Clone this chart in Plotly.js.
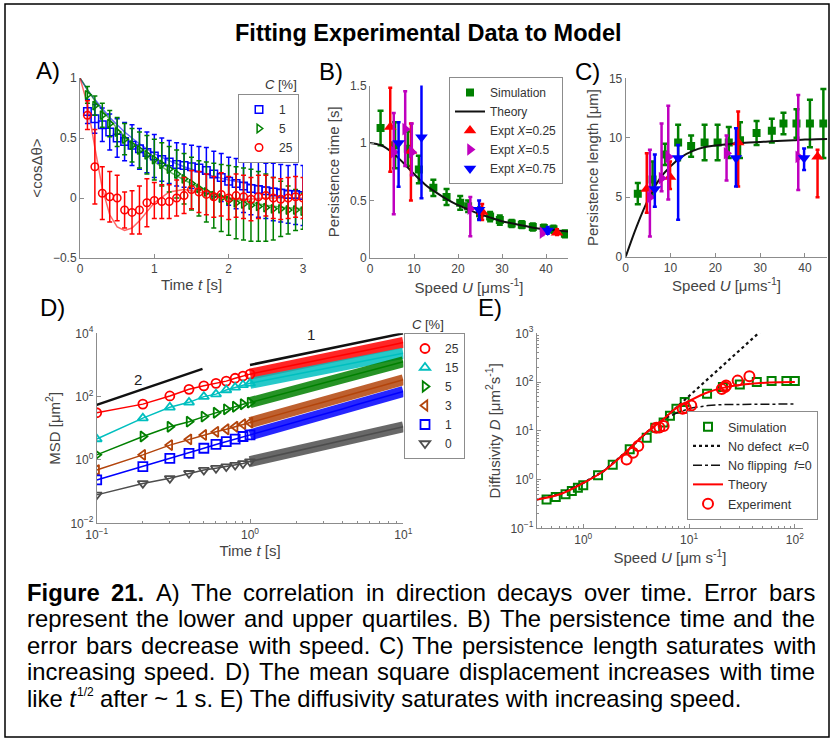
<!DOCTYPE html>
<html>
<head>
<meta charset="utf-8">
<script src="https://cdn.plot.ly/plotly-3.0.1.min.js"></script>
<style>
  html, body { margin: 0; padding: 0; background: #fff; }
  #chart { width: 834px; height: 741px; }
</style>
</head>
<body>
<div id="chart"></div>
<script>
// ---------- Panel A: direction correlation vs time ----------
const timeA = [0.1,0.2,0.3,0.4,0.5,0.6,0.7,0.8,0.9,1.0,1.1,1.2,1.3,1.4,1.5,1.6,1.7,1.8,1.9,2.0,2.1,2.2,2.3,2.4,2.5,2.6,2.7,2.8,2.9,3.0];
const corrC1 = [0.72,0.66,0.61,0.55,0.50,0.47,0.44,0.41,0.38,0.35,0.32,0.30,0.28,0.27,0.26,0.25,0.23,0.20,0.17,0.14,0.12,0.10,0.08,0.07,0.06,0.05,0.04,0.03,0.03,0.02];
const errC1  = [0.10,0.12,0.14,0.15,0.16,0.16,0.17,0.17,0.17,0.18,0.18,0.18,0.18,0.18,0.18,0.18,0.19,0.19,0.20,0.20,0.21,0.22,0.22,0.23,0.23,0.24,0.24,0.24,0.25,0.25];
const corrC5 = [0.86,0.77,0.69,0.62,0.55,0.49,0.44,0.40,0.36,0.32,0.28,0.24,0.20,0.16,0.12,0.08,0.05,0.02,0.00,-0.02,-0.04,-0.05,-0.06,-0.07,-0.08,-0.09,-0.09,-0.10,-0.10,-0.11];
const errC5  = [0.07,0.08,0.10,0.11,0.12,0.13,0.14,0.15,0.16,0.17,0.18,0.19,0.20,0.21,0.22,0.23,0.25,0.27,0.28,0.29,0.30,0.30,0.30,0.29,0.28,0.26,0.23,0.20,0.17,0.15];
const corrC25 = [0.69,0.26,0.04,0.01,0.00,-0.10,-0.12,-0.10,-0.04,-0.02,-0.03,-0.03,0.00,0.02,0.07,0.05,0.03,0.01,0.03,0.00,0.02,0.01,-0.01,0.01,0.02,0.00,-0.01,0.00,0.01,0.00];
const errC25  = [0.12,0.31,0.22,0.21,0.19,0.15,0.18,0.20,0.20,0.15,0.14,0.14,0.15,0.15,0.16,0.17,0.17,0.17,0.18,0.18,0.18,0.18,0.18,0.18,0.17,0.17,0.17,0.17,0.17,0.17];
const fitTimeA = [0,0.1,0.2,0.3,0.4,0.5,0.6,0.7,0.8,0.9,1.0,1.2,1.4,1.6,1.8,2.0,2.25,2.5,2.75,3.0];
const fitC1  = [1,0.90,0.82,0.74,0.67,0.61,0.55,0.50,0.45,0.41,0.37,0.31,0.26,0.22,0.18,0.15,0.12,0.09,0.07,0.05];
const fitC5  = [1,0.90,0.81,0.73,0.65,0.58,0.51,0.45,0.40,0.35,0.30,0.22,0.15,0.09,0.04,0.00,-0.03,-0.06,-0.08,-0.09];
const fitC25 = [1,0.78,0.42,0.08,-0.14,-0.24,-0.27,-0.25,-0.19,-0.11,-0.04,0.05,0.07,0.05,0.02,0.00,-0.01,0.00,0.00,0.00];

// ---------- Panels B and C: persistence time / length vs speed ----------
const simSpeedB = [2.4,5.7,8.6,11.1,14.4,17.4,20.5,22.3,25.0,27.3,29.5,32.2,34.5,37.0,39.5,41.7,44.3];
const simTau    = [1.13,0.98,0.95,0.77,0.61,0.53,0.48,0.45,0.39,0.36,0.33,0.30,0.29,0.27,0.26,0.25,0.21];
const simTauErr = [0.15,0.20,0.15,0.12,0.07,0.07,0.06,0.05,0.05,0.04,0.04,0.03,0.03,0.03,0.03,0.03,0.03];
const theorySpeed = [0,2.5,5,7.5,10,12.5,15,17.5,20,22.5,25,27.5,30,32.5,35,37.5,40,42.5,45];
const theoryTau   = [1.0,0.98,0.92,0.83,0.73,0.64,0.57,0.51,0.46,0.42,0.38,0.35,0.32,0.30,0.28,0.26,0.25,0.24,0.23];
const theoryLen   = [0,2.6,4.8,6.5,7.6,8.4,8.9,9.2,9.35,9.45,9.55,9.6,9.65,9.7,9.75,9.8,9.85,9.87,9.9];

const exp25SpeedB = [4.6,9.3,25.5,42.5];
const exp25Tau    = [1.14,0.93,0.40,0.22];
const exp25TauHi  = [1.48,1.17,0.47,0.25];
const exp25TauLo  = [0.75,0.50,0.33,0.20];
const exp50SpeedB = [5.4,8.0,9.5,22.8,39.2];
const exp50Tau    = [0.92,1.12,0.92,0.43,0.22];
const exp50TauHi  = [1.26,1.45,1.17,0.53,0.25];
const exp50TauLo  = [0.38,0.80,0.72,0.19,0.20];
const exp75SpeedB = [6.5,11.7,24.8,40.4];
const exp75Tau    = [1.00,1.05,0.42,0.24];
const exp75TauHi  = [1.18,1.57,0.50,0.27];
const exp75TauLo  = [0.62,0.52,0.33,0.21];

const simSpeedC = [2.7,6.0,8.8,11.7,14.6,17.6,20.5,23.0,25.5,29.2,32.6,35.2,38.1,41.1,44.1];
const simLen    = [5.3,6.5,8.6,9.6,9.3,9.6,9.6,9.6,9.8,10.4,10.6,11.2,11.2,11.2,11.2];
const simLenErr = [0.9,1.5,0.9,1.5,0.9,1.5,1.5,1.3,1.5,1.0,1.0,0.9,1.2,2.0,2.9];
const exp25SpeedC = [4.7,9.9,25.1,42.8];
const exp25Len    = [5.7,6.7,9.6,8.4];
const exp25LenHi  = [8.7,8.0,12.2,9.0];
const exp25LenLo  = [3.7,5.7,5.9,5.0];
const exp50SpeedC = [5.4,8.0,9.5,22.5,38.5];
const exp50Len    = [5.0,6.6,8.4,8.7,8.4];
const exp50LenHi  = [9.0,11.2,12.7,10.2,13.6];
const exp50LenLo  = [1.7,5.5,4.8,6.4,5.6];
const exp75SpeedC = [6.5,11.7,24.6,39.8];
const exp75Len    = [5.7,8.3,8.3,8.3];
const exp75LenHi  = [8.6,9.4,10.8,9.1];
const exp75LenLo  = [4.2,3.1,5.9,7.3];

// ---------- Panel D: mean square displacement ----------
const timeD = [0.1,0.2,0.3,0.4,0.5,0.6,0.7,0.8,0.9,1.0];
const timeDLate = [1,1.5,2,3,4,5,6,7,8,10];
const msdC25 = [31,58,105,170,219,263,309,380,447,513];
const msdC25Late = [513,776,1023,1549,2042,2570,3090,3548,4074,5129];
const msdC15 = [4.6,21,46,66,100,120,162,195,234,263];
const msdC15Late = [263,389,513,741,977,1202,1445,1660,1905,2344];
const msdC5 = [1.45,5.5,11.2,16.2,23.4,30.9,39.8,47.9,57.5,64.6];
const msdC5Late = [64.6,110,158,269,389,513,646,794,955,1259];
const msdC3 = [0.48,1.45,2.95,4.47,6.17,7.76,9.33,11.2,13.5,15.1];
const msdC3Late = [15.1,26.3,38.9,66.1,97.7,132,170,209,251,339];
const msdC1 = [0.234,0.617,1.12,1.62,2.34,3.09,3.8,4.57,5.5,6.17];
const msdC1Late = [6.17,10.7,15.8,27.5,40.7,56.2,72.4,89.1,107,145];
const msdC0 = [0.079,0.182,0.263,0.38,0.479,0.55,0.617,0.692,0.776,0.891];
const msdC0Late = [0.891,1.38,1.91,2.95,4.07,5.25,6.46,7.59,8.71,11.2];
const slope2Time = [0.1,0.49], slope2Msd = [55,750];
const slope1Time = [1,10],     slope1Msd = [1000,10000];
const timeDTicks = [0.1,1,10],           timeDTickText = ['10<sup>−1</sup>','10<sup>0</sup>','10<sup>1</sup>'];
const msdTicks = [0.01,1,100,10000],     msdTickText = ['10<sup>−2</sup>','10<sup>0</sup>','10<sup>2</sup>','10<sup>4</sup>'];

// ---------- Panel E: diffusivity vs speed ----------
const simSpeedE = [0.45,0.55,0.68,0.78,0.89,1.0,1.38,1.9,2.75,3.98,4.79,5.75,6.6,7.6,9.1,14.8,20.9,30.2,43.7,60.3,83.2,100];
const simDiff   = [0.39,0.44,0.5,0.58,0.68,0.76,1.23,2.0,4.17,7.24,11.5,14.8,20.4,28.2,38.9,57.5,79.4,89.1,100,105,105,105];
const thSpeedE  = [0.363,0.603,1.0,1.55,2.4,3.98,5.75,7.59,10.2,15.1,20.9,30.2,57.5,100];
const thDiff    = [0.39,0.5,0.85,1.48,3.31,9.33,17.4,29.5,41.7,61.7,75.9,87.1,97.7,100];
const noDefectSpeed = [0.363,0.603,1.0,1.55,2.4,3.98,5.75,7.59,10.2,15.1,20.9,30.2,46.8];
const noDefectDiff  = [0.39,0.5,0.85,1.48,3.31,9.33,17.4,30,54,117,219,457,1070];
const noFlipSpeed = [0.363,0.603,1.0,1.55,2.4,3.98,5.75,7.59,10.2,15.1,20.9,30.2,57.5,100];
const noFlipDiff  = [0.39,0.5,0.85,1.48,3.31,9.33,17.4,23,29,33,34.5,35,35.5,35.5];
const expSpeedE = [2.57,2.95,3.31,4.9,5.25,5.75,8.7,9.3,10.5,20.4,21.9,22.4,28.8,37.2];
const expDiff   = [2.57,3.55,4.9,11.5,11.7,12.6,28.2,29.5,33.1,72.4,79.4,85.1,107,132];
const speedETicks = [1,10,100],              speedETickText = ['10<sup>0</sup>','10<sup>1</sup>','10<sup>2</sup>'];
const diffTicks = [0.1,1,10,100,1000],       diffTickText = ['10<sup>−1</sup>','10<sup>0</sup>','10<sup>1</sup>','10<sup>2</sup>','10<sup>3</sup>'];

// ---------- Text ----------
const figTitle = '<b>Fitting Experimental Data to Model</b>';
const captionLines = [
  'Figure 21. A) The correlation in direction decays over time. Error bars',
  'represent the lower and upper quartiles. B) The persistence time and the',
  'error bars decrease with speed. C) The persistence length saturates with',
  'increasing speed. D) The mean square displacement increases with time'
];
const captionLastStart = 'like ', captionLastVar = 't', captionLastExp = '1/2';
const captionLastRest = 'after ~ 1 s. E) The diffusivity saturates with increasing speed.';

// ---------- Page geometry ----------
const W = 834, H = 741;
const FONT = '"Liberation Sans", Arial, sans-serif';
const px = x => x / W;
const py = y => 1 - y / H;

const RED = '#ff0000', GREEN = '#008000', BLUE = '#0000ff', MAG = '#bf00bf',
      CYAN = '#00bfbf', BROWN = '#b3440b', GREY = '#4d4d4d';

function axis(x0, x1, extra) {
  return Object.assign({
    domain: [x0, x1], showline: true, linecolor: '#8c8c8c', linewidth: 1,
    ticks: 'inside', ticklen: 4, tickcolor: '#8c8c8c', showgrid: false, zeroline: false,
    tickfont: { family: FONT, size: 12, color: '#444' }
  }, extra);
}
function axTitle(text, standoff) {
  return { text: text, standoff: standoff, font: { family: FONT, size: 15, color: '#444' } };
}
function asym(y, hi, lo) {
  return { type: 'data', symmetric: false,
    array: hi.map((h, i) => h - y[i]), arrayminus: lo.map((l, i) => y[i] - l) };
}

const traces = [];

// Panel A
[[fitC1, BLUE], [fitC5, GREEN], [fitC25, RED]].forEach(([y, c]) => traces.push({
  x: fitTimeA, y: y, xaxis: 'x', yaxis: 'y', mode: 'lines', showlegend: false,
  line: { color: c, width: 1.5 }, opacity: 0.6, hoverinfo: 'skip'
}));
[[corrC1, errC1, BLUE, 'square-open', '1'],
 [corrC5, errC5, GREEN, 'triangle-right-open', '5'],
 [corrC25, errC25, RED, 'circle-open', '25']].forEach(([y, e, c, s, n]) => traces.push({
  x: timeA, y: y, xaxis: 'x', yaxis: 'y', mode: 'markers', name: n, legend: 'legend',
  marker: { symbol: s, size: 7.5, color: c, line: { width: 1.5, color: c } },
  error_y: { type: 'data', array: e, color: c, thickness: 1.5, width: 2.5 }
}));

// Panel B
traces.push({
  x: simSpeedB, y: simTau, xaxis: 'x2', yaxis: 'y2', mode: 'markers', name: 'Simulation', legend: 'legend2',
  marker: { symbol: 'square', size: 8, color: GREEN },
  error_y: { type: 'data', array: simTauErr, color: GREEN, thickness: 2.5, width: 3 }
});
traces.push({
  x: theorySpeed, y: theoryTau, xaxis: 'x2', yaxis: 'y2', mode: 'lines', name: 'Theory', legend: 'legend2',
  line: { color: '#111', width: 2, shape: 'spline' }
});
const exptSets = [
  ['Expt <i>X</i>=0.25', RED, 'triangle-up', exp25SpeedB, exp25Tau, exp25TauHi, exp25TauLo, exp25SpeedC, exp25Len, exp25LenHi, exp25LenLo],
  ['Expt <i>X</i>=0.5', MAG, 'triangle-right', exp50SpeedB, exp50Tau, exp50TauHi, exp50TauLo, exp50SpeedC, exp50Len, exp50LenHi, exp50LenLo],
  ['Expt <i>X</i>=0.75', BLUE, 'triangle-down', exp75SpeedB, exp75Tau, exp75TauHi, exp75TauLo, exp75SpeedC, exp75Len, exp75LenHi, exp75LenLo]
];
exptSets.forEach(([n, c, s, u, t, th, tl]) => traces.push({
  x: u, y: t, xaxis: 'x2', yaxis: 'y2', mode: 'markers', name: n, legend: 'legend2',
  marker: { symbol: s, size: 11, color: c },
  error_y: Object.assign(asym(t, th, tl), { color: c, thickness: 2.5, width: 2 })
}));

// Panel C
traces.push({
  x: simSpeedC, y: simLen, xaxis: 'x3', yaxis: 'y3', mode: 'markers', showlegend: false,
  marker: { symbol: 'square', size: 8, color: GREEN },
  error_y: { type: 'data', array: simLenErr, color: GREEN, thickness: 2.5, width: 3 }
});
traces.push({
  x: theorySpeed, y: theoryLen, xaxis: 'x3', yaxis: 'y3', mode: 'lines', showlegend: false,
  line: { color: '#111', width: 2, shape: 'spline' }
});
exptSets.forEach(([n, c, s, , , , , u, l, lh, ll]) => traces.push({
  x: u, y: l, xaxis: 'x3', yaxis: 'y3', mode: 'markers', showlegend: false,
  marker: { symbol: s, size: 11, color: c },
  error_y: Object.assign(asym(l, lh, ll), { color: c, thickness: 2.5, width: 2 })
}));

// Panel D
const msdSets = [
  ['25', RED, 'circle-open', msdC25, msdC25Late],
  ['15', CYAN, 'triangle-up-open', msdC15, msdC15Late],
  ['5', GREEN, 'triangle-right-open', msdC5, msdC5Late],
  ['3', BROWN, 'triangle-left-open', msdC3, msdC3Late],
  ['1', BLUE, 'square-open', msdC1, msdC1Late],
  ['0', GREY, 'triangle-down-open', msdC0, msdC0Late]
];
msdSets.forEach(([n, c, s, early, late]) => {
  traces.push({
    x: timeDLate, y: late, xaxis: 'x4', yaxis: 'y4', mode: 'lines', showlegend: false,
    line: { color: c, width: 11 }, opacity: 0.85, hoverinfo: 'skip'
  });
  traces.push({
    x: timeD.concat(timeDLate.slice(1)), y: early.concat(late.slice(1)), xaxis: 'x4', yaxis: 'y4',
    mode: 'lines', showlegend: false, line: { color: c, width: 1.5 }, hoverinfo: 'skip'
  });
});
msdSets.forEach(([n, c, s, early]) => traces.push({
  x: timeD, y: early, xaxis: 'x4', yaxis: 'y4', mode: 'markers', name: n, legend: 'legend3',
  marker: { symbol: s, size: 9, color: c, line: { width: 1.8, color: c } }
}));
[[slope2Time, slope2Msd], [slope1Time, slope1Msd]].forEach(([x, y]) => traces.push({
  x: x, y: y, xaxis: 'x4', yaxis: 'y4', mode: 'lines', showlegend: false,
  line: { color: '#111', width: 2.5 }
}));

// Panel E
traces.push({
  x: simSpeedE, y: simDiff, xaxis: 'x5', yaxis: 'y5', mode: 'markers', name: 'Simulation', legend: 'legend4',
  marker: { symbol: 'square-open', size: 8, color: GREEN, line: { width: 2, color: GREEN } }
});
traces.push({
  x: noDefectSpeed, y: noDefectDiff, xaxis: 'x5', yaxis: 'y5', mode: 'lines', name: 'No defect  <i>κ</i>=0',
  legend: 'legend4', line: { color: '#111', width: 2.2, dash: 'dot' }
});
traces.push({
  x: noFlipSpeed, y: noFlipDiff, xaxis: 'x5', yaxis: 'y5', mode: 'lines', name: 'No flipping  <i>f</i>=0',
  legend: 'legend4', line: { color: '#111', width: 1.5, dash: 'dashdot' }
});
traces.push({
  x: thSpeedE, y: thDiff, xaxis: 'x5', yaxis: 'y5', mode: 'lines', name: 'Theory',
  legend: 'legend4', line: { color: RED, width: 2, shape: 'spline' }
});
traces.push({
  x: expSpeedE, y: expDiff, xaxis: 'x5', yaxis: 'y5', mode: 'markers', name: 'Experiment', legend: 'legend4',
  marker: { symbol: 'circle-open', size: 10, color: RED, line: { width: 2, color: RED } }
});

// ---------- Annotations ----------
const annotations = [];
function label(text, x, y, size, extra) {
  annotations.push(Object.assign({
    text: text, xref: 'paper', yref: 'paper', x: px(x), y: py(y),
    xanchor: 'center', yanchor: 'middle', showarrow: false, borderpad: 0,
    font: { family: FONT, size: size, color: '#000' }
  }, extra || {}));
}
label(figTitle, 428, 33, 23.5);
label('A)', 48, 70, 24);
label('B)', 331, 71, 24);
label('C)', 587, 71, 24);
label('D)', 52, 307, 24);
label('E)', 490, 307, 24);
label('<i>C</i> [%]', 281, 85, 13, { font: { family: FONT, size: 13, color: '#333' } });
label('<i>C</i> [%]', 428, 324, 13, { font: { family: FONT, size: 13, color: '#333' } });
annotations.push({ text: '2', xref: 'x4', yref: 'y4', x: Math.log10(0.186), y: Math.log10(338),
  showarrow: false, font: { family: FONT, size: 15, color: '#222' } });
annotations.push({ text: '1', xref: 'x4', yref: 'y4', x: Math.log10(2.5), y: Math.log10(8900),
  showarrow: false, font: { family: FONT, size: 15, color: '#222' } });

// Caption: justified lines laid out word by word
const CAP_SIZE = 23.8, CAP_LEFT = 27, CAP_RIGHT = 815, SUP_SIZE = 12;
const capY = [592, 618.5, 645, 671.5, 698];
const ctx = document.createElement('canvas').getContext('2d');
function wordWidth(w, style, size) {
  ctx.font = (style ? style + ' ' : '') + (size || CAP_SIZE) + 'px "Liberation Sans"';
  return ctx.measureText(w).width;
}
captionLines.forEach((line, li) => {
  const words = line.split(' ');
  const bold = words.map((w, i) => li === 0 && i < 2);
  const widths = words.map((w, i) => wordWidth(w, bold[i] ? 'bold' : ''));
  const total = widths.reduce((a, b) => a + b, 0);
  const gap = (CAP_RIGHT - CAP_LEFT - total) / (words.length - 1);
  let x = CAP_LEFT;
  words.forEach((w, i) => {
    label(bold[i] ? '<b>' + w + '</b>' : w, x, capY[li], CAP_SIZE, { xanchor: 'left', borderwidth: 0 });
    x += widths[i] + gap;
  });
});
// Last line (left aligned) with a small raised exponent
{
  let x = CAP_LEFT;
  label(captionLastStart + '<i>' + captionLastVar + '</i>', x, capY[4], CAP_SIZE, { xanchor: 'left', borderwidth: 0 });
  x += wordWidth(captionLastStart) + wordWidth(captionLastVar, 'italic') + 1;
  label(captionLastExp, x, capY[4] - 6, SUP_SIZE, { xanchor: 'left', borderwidth: 0 });
  x += wordWidth(captionLastExp, '', SUP_SIZE) + wordWidth(' ');
  label(captionLastRest, x, capY[4], CAP_SIZE, { xanchor: 'left', borderwidth: 0 });
}

// ---------- Legends ----------
function legendBox(x, y, xanchor, yanchor, size) {
  return { x: px(x), y: py(y), xanchor: xanchor, yanchor: yanchor, bgcolor: '#fff',
    bordercolor: '#8c8c8c', borderwidth: 1, itemwidth: 30, tracegroupgap: 0,
    font: { family: FONT, size: size, color: '#333' } };
}

const layout = {
  width: W, height: H, margin: { l: 0, r: 0, t: 0, b: 0 },
  paper_bgcolor: '#fff', plot_bgcolor: 'rgba(0,0,0,0)',
  showlegend: true,
  legend: legendBox(299, 94, 'right', 'top', 12),
  legend2: legendBox(563, 77, 'right', 'top', 12),
  legend3: legendBox(404, 333, 'left', 'top', 12),
  legend4: legendBox(818, 520, 'right', 'bottom', 12.5),
  // A
  xaxis: axis(px(80), px(303), { anchor: 'y', range: [0, 3], dtick: 1, title: axTitle('Time <i>t</i> [s]', 4) }),
  yaxis: axis(py(258), py(78), { anchor: 'x', range: [-0.5, 1], dtick: 0.5, title: axTitle('&lt;cosΔθ&gt;', 6) }),
  // B
  xaxis2: axis(px(370), px(568), { anchor: 'y2', range: [0, 45], dtick: 10, title: axTitle('Speed <i>U</i> [μms<sup>-1</sup>]', 4) }),
  yaxis2: axis(py(258), py(85.5), { anchor: 'x2', range: [0, 1.5], dtick: 0.5, title: axTitle('Persistence time [s]', 6) }),
  // C
  xaxis3: axis(px(625.7), px(827.4), { anchor: 'y3', range: [0, 45], dtick: 10, title: axTitle('Speed <i>U</i> [μms<sup>-1</sup>]', 4) }),
  yaxis3: axis(py(256.7), py(78.3), { anchor: 'x3', range: [0, 15], dtick: 5, title: axTitle('Persistence length [μm]', 6) }),
  // D
  xaxis4: axis(px(96.7), px(403.3), { anchor: 'y4', type: 'log', range: [-1, 1],
    tickmode: 'array', tickvals: timeDTicks, ticktext: timeDTickText,
    minor: { ticks: 'inside', ticklen: 2, tickcolor: '#8c8c8c', dtick: 'D1' }, title: axTitle('Time <i>t</i> [s]', 4) }),
  yaxis4: axis(py(523.3), py(333.3), { anchor: 'x4', type: 'log', range: [-2, 4],
    tickmode: 'array', tickvals: msdTicks, ticktext: msdTickText, title: axTitle('MSD [μm<sup>2</sup>]', 6) }),
  // E
  xaxis5: axis(px(536.7), px(803.3), { anchor: 'y5', type: 'log', range: [-0.44, 2.08],
    tickmode: 'array', tickvals: speedETicks, ticktext: speedETickText,
    minor: { ticks: 'inside', ticklen: 2, tickcolor: '#8c8c8c', dtick: 'D1' }, title: axTitle('Speed <i>U</i> [μm s<sup>-1</sup>]', 4) }),
  yaxis5: axis(py(528.3), py(333.3), { anchor: 'x5', type: 'log', range: [-1, 3],
    tickmode: 'array', tickvals: diffTicks, ticktext: diffTickText,
    minor: { ticks: 'inside', ticklen: 2, tickcolor: '#8c8c8c', dtick: 'D1' }, title: axTitle('Diffusivity <i>D</i> [μm<sup>2</sup>s<sup>-1</sup>]', 6) }),
  annotations: annotations,
  shapes: [{ type: 'rect', xref: 'paper', yref: 'paper', x0: px(5), x1: px(829), y0: py(737), y1: py(4),
    line: { color: '#000', width: 1.5 } }]
};

Plotly.newPlot('chart', traces, layout, { displayModeBar: false, staticPlot: true });
</script>
</body>
</html>
